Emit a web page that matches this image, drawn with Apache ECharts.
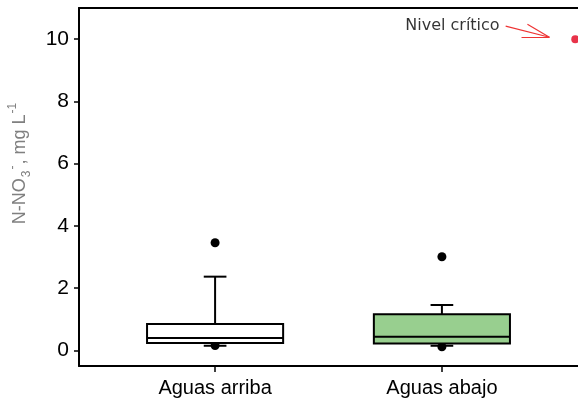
<!DOCTYPE html>
<html>
<head>
<meta charset="utf-8">
<script src="https://cdn.jsdelivr.net/npm/echarts@6/dist/echarts.min.js"></script>
<style>
  html, body { margin: 0; padding: 0; background: #fff; overflow: hidden; }
  #chart { width: 600px; height: 405px; }
</style>
</head>
<body>
<div id="chart"></div>
<script>
// Sites along the stream
const categories = ['Aguas arriba', 'Aguas abajo'];
const positions = [1, 2];

// Box statistics per site: [min, Q1, median, Q3, max] (N-NO3-, mg/L)
const boxStats = [
  [0.15, 0.24, 0.40, 0.85, 2.37],
  [0.15, 0.22, 0.44, 1.16, 1.46]
];
const boxFills = ['#ffffff', '#98cf8f'];

// Individual points beyond/at the whisker ends: [position, value]
const outliers = [
  [1, 3.46], [1, 0.16],
  [2, 3.01], [2, 0.12]
];

// Critical level of nitrate
const criticalLevel = 10;
const criticalPoint = [2.588, criticalLevel];
// Annotation arrow: tail, head and the two barb ends
const arrowTail = [2.281, 10.42];
const arrowHead = [2.474, 10.06];
const arrowBarbs = [[2.377, 10.48], [2.351, 10.06]];

const yTicks = [0, 2, 4, 6, 8, 10];

const BOX_W = 0.6;
const CAP_W = 0.1;

const chart = echarts.init(document.getElementById('chart'), null, { renderer: 'canvas' });

const boxData = boxStats.map((s, i) => [positions[i]].concat(s));

function renderBox(params, api) {
  const x = api.value(0);
  const mn = api.value(1), q1 = api.value(2), md = api.value(3), q3 = api.value(4), mx = api.value(5);
  const pL = api.coord([x - BOX_W / 2, q3]);
  const pR = api.coord([x + BOX_W / 2, q1]);
  const pMin = api.coord([x, mn]);
  const pMax = api.coord([x, mx]);
  const pMed = api.coord([x, md]);
  const capHalf = (api.coord([x + CAP_W / 2, 0])[0] - api.coord([x, 0])[0]);
  const line = { stroke: '#000', lineWidth: 2 };
  return {
    type: 'group',
    children: [
      { type: 'line', shape: { x1: pMax[0], y1: pMax[1], x2: pMax[0], y2: pL[1] }, style: line },
      { type: 'line', shape: { x1: pMax[0] - capHalf, y1: pMax[1], x2: pMax[0] + capHalf, y2: pMax[1] }, style: line },
      { type: 'line', shape: { x1: pMin[0], y1: pR[1], x2: pMin[0], y2: pMin[1] }, style: line },
      { type: 'line', shape: { x1: pMin[0] - capHalf, y1: pMin[1], x2: pMin[0] + capHalf, y2: pMin[1] }, style: line },
      { type: 'rect', shape: { x: pL[0], y: pL[1], width: pR[0] - pL[0], height: pR[1] - pL[1] },
        style: { fill: boxFills[params.dataIndex], stroke: '#000', lineWidth: 2 } },
      { type: 'line', shape: { x1: pL[0], y1: pMed[1], x2: pR[0], y2: pMed[1] }, style: line }
    ]
  };
}

const arrowSegments = [
  { coords: [arrowTail, arrowHead] },
  { coords: [arrowBarbs[0], arrowHead] },
  { coords: [arrowBarbs[1], arrowHead] }
];

// The plot frame runs on past the right edge of the page
const X_MIN = 0.4, X_MAX = 2.697;

chart.setOption({
  animation: false,
  backgroundColor: '#ffffff',
  grid: { left: 79, right: 0, top: 8, bottom: 39, containLabel: false },
  xAxis: [
    {
      type: 'value', min: X_MIN, max: X_MAX,
      splitLine: { show: false },
      axisLine: { show: true, onZero: false, lineStyle: { color: '#000', width: 2 } },
      axisTick: { show: true, customValues: positions, length: 6, lineStyle: { color: '#000', width: 1.5 } },
      axisLabel: {
        customValues: positions, margin: 12, color: '#000',
        fontFamily: 'Liberation Sans, Arial, sans-serif', fontSize: 20,
        formatter: v => categories[positions.indexOf(v)] || ''
      }
    },
    {
      type: 'value', min: X_MIN, max: X_MAX, position: 'top',
      splitLine: { show: false },
      axisLine: { show: true, onZero: false, lineStyle: { color: '#000', width: 2 } },
      axisTick: { show: false }, axisLabel: { show: false }
    }
  ],
  yAxis: {
    type: 'value', min: -0.5, max: 11,
    splitLine: { show: false },
    axisLine: { show: true, onZero: false, lineStyle: { color: '#000', width: 2 } },
    axisTick: { show: true, customValues: yTicks, length: 5, lineStyle: { color: '#000', width: 1.5 } },
    axisLabel: {
      customValues: yTicks, margin: 10, color: '#000',
      fontFamily: 'Liberation Sans, Arial, sans-serif', fontSize: 21
    }
  },
  graphic: [{
    type: 'text',
    x: 20, y: 163,
    rotation: Math.PI / 2,
    style: {
      text: '{a|N-NO}{s|3}{p|-}{a|, mg L}{p|-1}',
      align: 'center', verticalAlign: 'middle',
      rich: {
        a: { fontFamily: 'Liberation Sans, Arial, sans-serif', fontSize: 18, fill: '#808080', lineHeight: 26, verticalAlign: 'middle' },
        s: { fontFamily: 'Liberation Sans, Arial, sans-serif', fontSize: 12, fill: '#808080', lineHeight: 26, verticalAlign: 'bottom', padding: [0, 0, 0, 1] },
        p: { fontFamily: 'Liberation Sans, Arial, sans-serif', fontSize: 12, fill: '#808080', lineHeight: 26, verticalAlign: 'top', padding: [0, 1, 0, 1] }
      }
    }
  }],
  series: [
    {
      type: 'scatter',
      data: outliers,
      symbolSize: 9,
      itemStyle: { color: '#000', opacity: 1 },
      z: 1
    },
    {
      type: 'custom',
      renderItem: renderBox,
      data: boxData,
      encode: { x: 0, y: [1, 2, 3, 4, 5] },
      z: 2
    },
    {
      type: 'scatter',
      data: [criticalPoint],
      symbolSize: 8,
      itemStyle: { color: '#e8334a', opacity: 1 },
      z: 3
    },
    {
      type: 'lines',
      coordinateSystem: 'cartesian2d',
      data: arrowSegments,
      lineStyle: { color: '#ee3333', width: 1.2, opacity: 1 },
      z: 3
    },
    {
      type: 'scatter',
      data: [arrowTail],
      symbolSize: 0,
      label: {
        show: true, position: 'left', distance: 6,
        formatter: 'Nivel crítico',
        color: '#000', fontFamily: 'DejaVu Sans, sans-serif', fontSize: 16
      },
      z: 3
    }
  ]
});
</script>
</body>
</html>
